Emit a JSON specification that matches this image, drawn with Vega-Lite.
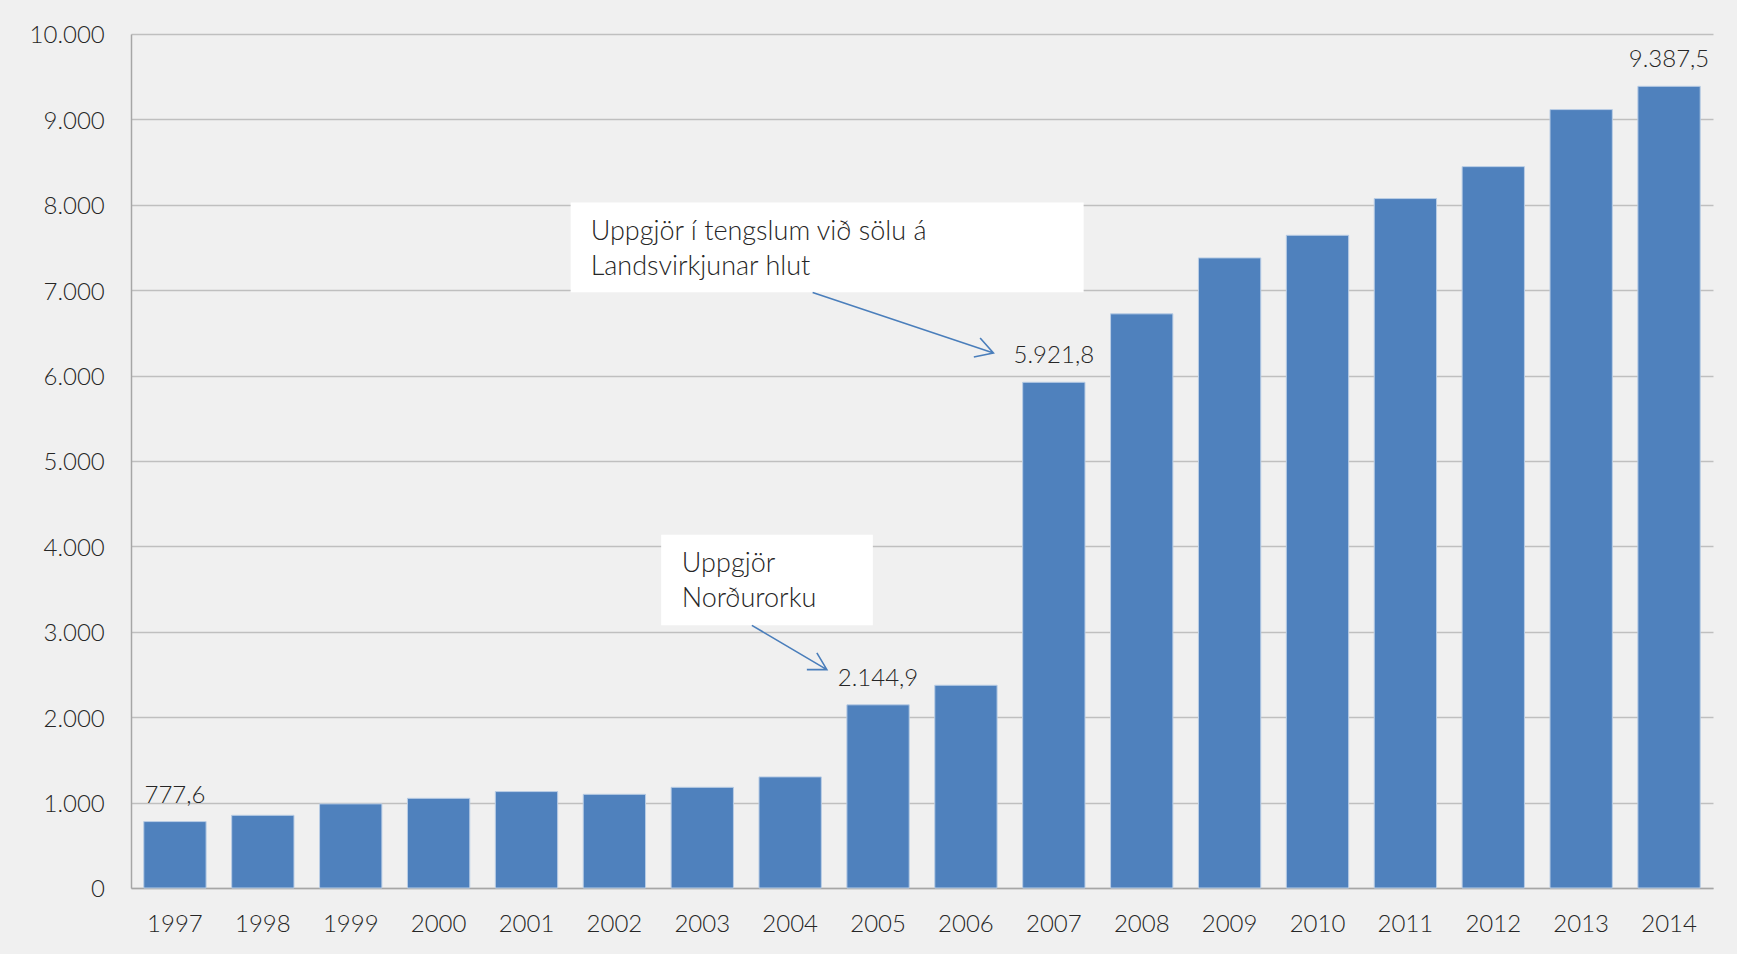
{
  "$schema": "https://vega.github.io/schema/vega-lite/v6.json",
  "width": 1582,
  "height": 854,
  "autosize": {"type": "none"},
  "padding": {"left": 131, "top": 34, "right": 24, "bottom": 66},
  "background": "#f0f0f0",
  "config": {
    "locale": {"number": {"decimal": ",", "thousands": ".", "grouping": [3], "currency": ["", " kr."]}},
    "view": {"stroke": null},
    "font": "Lato",
    "text": {"font": "Lato", "fontSize": 24, "fontWeight": 300, "color": "#262626"}
  },
  "datasets": {
    "bars": [
      {"year": "1997", "value": 777.6},
      {"year": "1998", "value": 851},
      {"year": "1999", "value": 985},
      {"year": "2000", "value": 1050},
      {"year": "2001", "value": 1129},
      {"year": "2002", "value": 1097},
      {"year": "2003", "value": 1179},
      {"year": "2004", "value": 1301},
      {"year": "2005", "value": 2144.9},
      {"year": "2006", "value": 2374},
      {"year": "2007", "value": 5921.8},
      {"year": "2008", "value": 6723},
      {"year": "2009", "value": 7378},
      {"year": "2010", "value": 7643},
      {"year": "2011", "value": 8073},
      {"year": "2012", "value": 8447},
      {"year": "2013", "value": 9115},
      {"year": "2014", "value": 9387.5}
    ],
    "notes": [
      {"year": "2007", "value": 5921.8, "note": ["Uppgjör í tengslum við sölu á", "Landsvirkjunar hlut"]},
      {"year": "2005", "value": 2144.9, "note": ["Uppgjör", "Norðurorku"]}
    ]
  },
  "encoding": {
    "x": {
      "field": "year",
      "type": "nominal",
      "scale": {"paddingInner": 0.291, "paddingOuter": 0.1455},
      "axis": {
        "title": null,
        "labelAngle": 0,
        "ticks": false,
        "tickSize": 0,
        "labelPadding": 43,
        "labelBaseline": "alphabetic",
        "labelFont": "Lato",
        "labelFontSize": 24,
        "labelFontWeight": 300,
        "labelColor": "#262626",
        "domainColor": "#a6a6a6",
        "domainWidth": 1.5,
        "grid": false
      }
    },
    "y": {
      "field": "value",
      "type": "quantitative",
      "scale": {"domain": [0, 10000], "nice": false},
      "axis": {
        "title": null,
        "values": [0, 1000, 2000, 3000, 4000, 5000, 6000, 7000, 8000, 9000, 10000],
        "format": ",.0f",
        "grid": true,
        "gridColor": "#bfbfbf",
        "gridWidth": 1.5,
        "domainColor": "#a6a6a6",
        "domainWidth": 1.5,
        "ticks": false,
        "tickSize": 0,
        "labelPadding": 26.7,
        "labelBaseline": "alphabetic",
        "labelOffset": 8.8,
        "labelFont": "Lato",
        "labelFontSize": 24,
        "labelFontWeight": 300,
        "labelColor": "#262626"
      }
    }
  },
  "layer": [
    {
      "data": {"name": "bars"},
      "mark": {"type": "bar", "color": "#4f81bd", "stroke": "#b9cde5", "strokeWidth": 1}
    },
    {
      "data": {"name": "bars"},
      "transform": [{"filter": {"field": "year", "oneOf": ["1997", "2005", "2007", "2014"]}}],
      "mark": {"type": "text", "baseline": "alphabetic", "align": "center", "dy": -19},
      "encoding": {"text": {"field": "value", "type": "quantitative", "format": ",.1f"}}
    },
    {
      "data": {"name": "notes"},
      "transform": [{"filter": {"field": "year", "equal": "2007"}}],
      "mark": {"type": "point", "shape": "M-483.2,-179.7H29.8V-90.1H-483.2Z", "size": 4, "filled": true, "color": "#ffffff", "opacity": 1, "strokeWidth": 0}
    },
    {
      "data": {"name": "notes"},
      "transform": [{"filter": {"field": "year", "equal": "2007"}}],
      "mark": {"type": "point", "shape": "M-241.2,-89.7L-60.4,-29.2M-80,-25.2L-60.4,-29.2L-73.7,-44.2", "size": 4, "filled": false, "color": "#4a7ebb", "opacity": 1, "strokeWidth": 1.6}
    },
    {
      "data": {"name": "notes"},
      "transform": [{"filter": {"field": "year", "equal": "2007"}}],
      "mark": {"type": "text", "align": "left", "baseline": "alphabetic", "dx": -463.2, "dy": -142, "lineHeight": 35, "fontSize": 27},
      "encoding": {"text": {"field": "note"}}
    },
    {
      "data": {"name": "notes"},
      "transform": [{"filter": {"field": "year", "equal": "2005"}}],
      "mark": {"type": "point", "shape": "M-216.9,-170.2H-5.2V-79.5H-216.9Z", "size": 4, "filled": true, "color": "#ffffff", "opacity": 1, "strokeWidth": 0}
    },
    {
      "data": {"name": "notes"},
      "transform": [{"filter": {"field": "year", "equal": "2005"}}],
      "mark": {"type": "point", "shape": "M-126.2,-79.5L-51.2,-35.2M-71.2,-35.2L-51.2,-35.2L-61.2,-51.9", "size": 4, "filled": false, "color": "#4a7ebb", "opacity": 1, "strokeWidth": 1.6}
    },
    {
      "data": {"name": "notes"},
      "transform": [{"filter": {"field": "year", "equal": "2005"}}],
      "mark": {"type": "text", "align": "left", "baseline": "alphabetic", "dx": -196.2, "dy": -133, "lineHeight": 35, "fontSize": 27},
      "encoding": {"text": {"field": "note"}}
    }
  ]
}
